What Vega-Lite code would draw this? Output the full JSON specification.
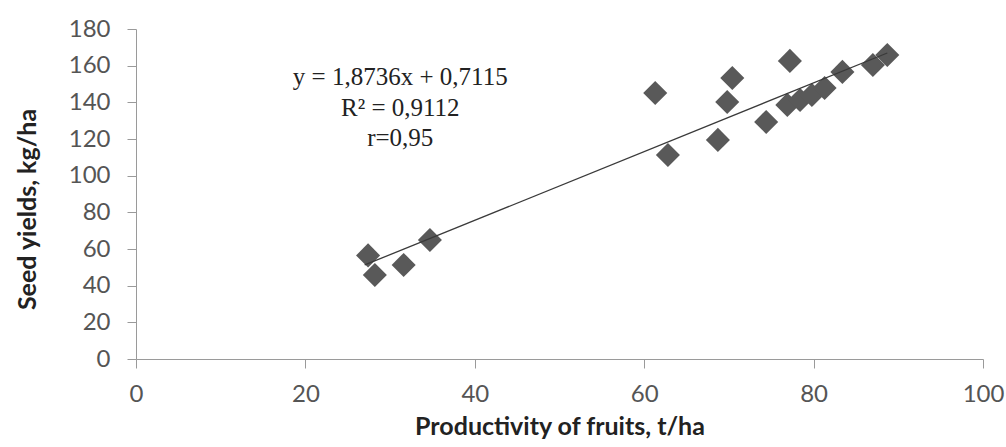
{
  "$schema": "https://vega.github.io/schema/vega-lite/v6.json",
  "width": 847,
  "height": 330,
  "autosize": {"type": "none"},
  "padding": {"left": 136, "top": 29, "right": 23, "bottom": 88},
  "background": "white",
  "config": {
    "view": {"stroke": null},
    "axis": {
      "grid": false,
      "domainColor": "#9a9a9a",
      "tickColor": "#9a9a9a",
      "tickSize": 9,
      "labelFont": "Lato",
      "labelFontSize": 24,
      "labelColor": "#555555",
      "labelOverlap": false,
      "labelFlush": false,
      "titleFont": "Lato",
      "titleFontSize": 25,
      "titleFontWeight": "bold",
      "titleColor": "#222222"
    }
  },
  "datasets": {
    "points": [
      {"fruits": 27.4, "seed": 56.5},
      {"fruits": 28.2, "seed": 45.8},
      {"fruits": 31.6, "seed": 51.3},
      {"fruits": 34.7, "seed": 64.9},
      {"fruits": 61.3, "seed": 145.1},
      {"fruits": 62.8, "seed": 111.3},
      {"fruits": 68.7, "seed": 119.5},
      {"fruits": 69.8, "seed": 140.2},
      {"fruits": 70.4, "seed": 153.3},
      {"fruits": 74.4, "seed": 129.3},
      {"fruits": 76.9, "seed": 138.6},
      {"fruits": 77.2, "seed": 162.6},
      {"fruits": 78.4, "seed": 141.3},
      {"fruits": 79.8, "seed": 144.0},
      {"fruits": 81.3, "seed": 147.8},
      {"fruits": 83.4, "seed": 156.6},
      {"fruits": 87.0, "seed": 160.4},
      {"fruits": 88.7, "seed": 165.8}
    ],
    "trend": [
      {"fruits": 27.0, "seed": 51.3},
      {"fruits": 88.7, "seed": 166.9}
    ],
    "labels": [
      {"fruits": 31.2, "seed": 153.8, "text": "y = 1,8736x + 0,7115"},
      {"fruits": 31.2, "seed": 137.0, "text": "R² = 0,9112"},
      {"fruits": 31.2, "seed": 120.6, "text": "r=0,95"}
    ]
  },
  "encoding": {
    "x": {"field": "fruits", "type": "quantitative", "scale": {"domain": [0, 100]}, "axis": {"values": [0, 20, 40, 60, 80, 100], "title": "Productivity of fruits, t/ha", "labelPadding": 14, "titlePadding": 8}},
    "y": {"field": "seed", "type": "quantitative", "scale": {"domain": [0, 180]}, "axis": {"values": [0, 20, 40, 60, 80, 100, 120, 140, 160, 180], "title": "Seed yields, kg/ha", "labelPadding": 17, "titlePadding": 28, "titleY": 180}}
  },
  "layer": [
    {
      "data": {"name": "points"},
      "mark": {"type": "point", "shape": "diamond", "filled": true, "size": 580, "color": "#595959", "opacity": 1}
    },
    {
      "data": {"name": "trend"},
      "mark": {"type": "line", "color": "#3a3a3a", "strokeWidth": 1.3}
    },
    {
      "data": {"name": "labels"},
      "mark": {"type": "text", "font": "Liberation Serif", "fontSize": 25, "color": "#222222", "align": "center", "baseline": "middle"},
      "encoding": {
        "text": {"field": "text"}
      }
    }
  ]
}
